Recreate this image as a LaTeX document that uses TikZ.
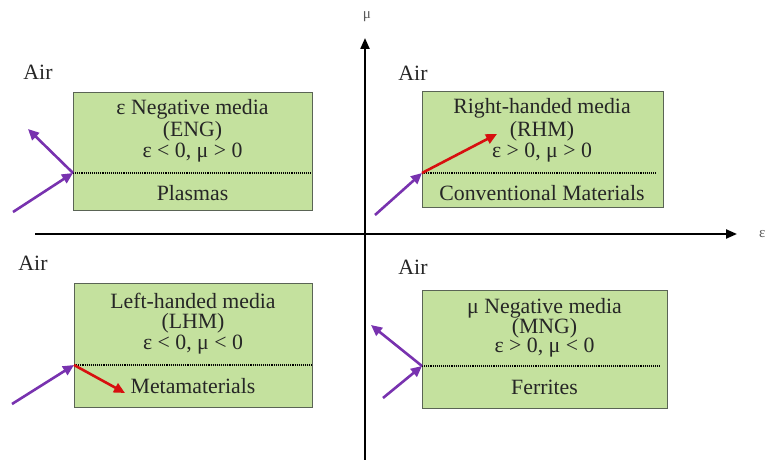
\documentclass[tikz,border=0pt]{standalone}
\usepackage{fontspec}
\setmainfont{Liberation Serif}
\usetikzlibrary{arrows.meta}
\definecolor{boxgreen}{RGB}{196,225,158}
\definecolor{boxedge}{RGB}{90,100,85}
\definecolor{raypurple}{RGB}{120,50,175}
\definecolor{rayred}{RGB}{215,15,15}
\tikzset{
  box/.style={draw=boxedge, fill=boxgreen, line width=1.2pt, inner sep=0pt, anchor=north west},
  txt/.style={font=\fontsize{21.8}{23}\selectfont, text=black!85, inner sep=0pt},
  small/.style={font=\fontsize{15}{16}\selectfont, text=black!65, inner sep=0pt},
  axis/.style={line width=2.2pt, -{Triangle[length=11pt,width=9pt]}},
  sep/.style={densely dotted, line width=1.1pt},
  purplearrow/.style={draw=raypurple, line width=2.6pt, -{Triangle[length=11pt,width=10pt]}},
  redarrow/.style={draw=rayred, line width=2.6pt, -{Triangle[length=11pt,width=10pt]}},
}
\begin{document}
\begin{tikzpicture}[x=1pt,y=-1pt]
\useasboundingbox (0,0) rectangle (766,460);
% axes
\coordinate (ybot) at (365,460);
\coordinate (ytop) at (365,38);
\coordinate (xl) at (35,234);
\coordinate (xr) at (737,234);
\draw[axis] (ybot) -- (ytop);
\draw[axis] (xl) -- (xr);
\node[small] (mu) at (367,17) {μ};
\node[small, anchor=west] (eps) at (759,234) {ε};
% boxes
\node[box, minimum width=239pt, minimum height=118pt] (tlb) at (73,92) {};
\node[box, minimum width=241pt, minimum height=116pt] (trb) at (422,91) {};
\node[box, minimum width=238pt, minimum height=124pt] (blb) at (74,283) {};
\node[box, minimum width=245pt, minimum height=118pt] (brb) at (422,290) {};
% separators
\coordinate (tlp) at (73,173);
\coordinate (trp) at (422,173);
\coordinate (blp) at (74,365);
\coordinate (brp) at (422,366);
\draw[sep] (tlp) -- (312,173);
\draw[sep] (trp) -- (657,173);
\draw[sep] (blp) -- (312,365);
\draw[sep] (brp) -- (661,366);
% texts
\node[txt] (t1) at (192.5,109) {ε Negative media};
\node[txt] (t2) at (192.5,131) {(ENG)};
\node[txt] (t3) at (192.5,153) {ε < 0, μ > 0};
\node[txt] (t4) at (192.5,193) {Plasmas};
\node[txt] (r1) at (542,108) {Right-handed media};
\node[txt] (r2) at (542,131) {(RHM)};
\node[txt] (r3) at (542,153) {ε > 0, μ > 0};
\node[txt] (r4) at (542,193) {Conventional Materials};
\node[txt] (l1) at (193,301) {Left-handed media};
\node[txt] (l2) at (193,323) {(LHM)};
\node[txt] (l3) at (193,345) {ε < 0, μ < 0};
\node[txt] (l4) at (193,386) {Metamaterials};
\node[txt] (m1) at (544.5,308) {μ Negative media};
\node[txt] (m2) at (544.5,328) {(MNG)};
\node[txt] (m3) at (544.5,348) {ε > 0, μ < 0};
\node[txt] (m4) at (544.5,387) {Ferrites};
% air labels
\node[txt] (a1) at (38,72) {Air};
\node[txt] (a2) at (413,73) {Air};
\node[txt] (a3) at (33,263) {Air};
\node[txt] (a4) at (413,267) {Air};
% rays
\coordinate (tlin) at (13,212);
\coordinate (tlout) at (28,129);
\draw[purplearrow] (tlin) -- (tlp);
\draw[purplearrow] (tlp) -- (tlout);
\coordinate (trin) at (375,215);
\coordinate (trout) at (497,134);
\draw[purplearrow] (trin) -- (trp);
\draw[redarrow] (trp) -- (trout);
\coordinate (blin) at (12,404);
\coordinate (blout) at (125,393);
\draw[purplearrow] (blin) -- (blp);
\draw[redarrow] (blp) -- (blout);
\coordinate (brin) at (383,398);
\coordinate (brout) at (371,325);
\draw[purplearrow] (brin) -- (brp);
\draw[purplearrow] (brp) -- (brout);
\end{tikzpicture}
\end{document}
